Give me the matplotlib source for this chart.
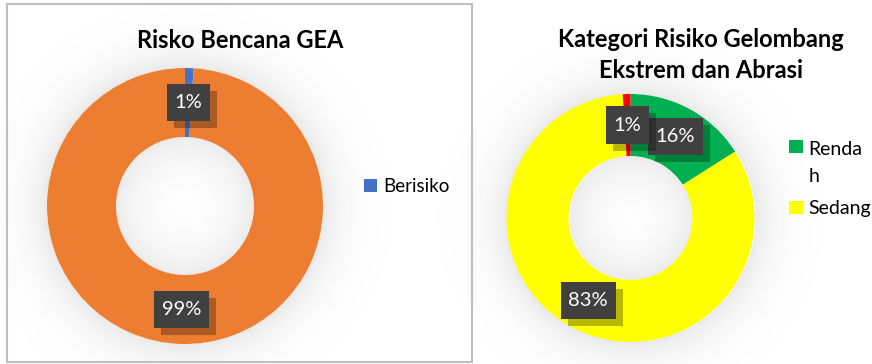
import matplotlib.pyplot as plt
import numpy as np
from matplotlib import patheffects
from matplotlib.path import Path
from matplotlib.patches import Rectangle
from matplotlib.legend_handler import HandlerPatch

plt.rcParams['font.family'] = ['Lato', 'DejaVu Sans']

W, H = 872, 364

# Risko Bencana GEA
gea_labels = ['Berisiko', 'Tidak Berisiko']
gea_values = [1, 99]
gea_colors = ['#4472C4', '#ED7D31']

# Kategori Risiko Gelombang Ekstrem dan Abrasi
gel_labels = ['Renda\nh', 'Sedang', 'Tinggi']
gel_values = [16, 83, 1]
gel_colors = ['#00B050', '#FFFF00', '#FF0000']

fig = plt.figure(figsize=(W / 100, H / 100), dpi=100)
ax = fig.add_axes([0, 0, 1, 1])


def glow(cx, cy, r, w):
    # soft grey shadow around the ring and inside the hole
    yy, xx = np.mgrid[0:H, 0:W] + 0.5
    d = np.hypot(xx - cx, yy - cy)
    out = np.clip(d - r, 0, None)
    inn = np.clip((r - w) - d, 0, None)
    a = np.where(d > r, 0.13 * np.exp(-out / 20), 0)
    a = a + np.where(d < r - w, 0.12 * np.exp(-inn / 26), 0)
    return a


def label_box(x0, y0, width, height, mutation_size):
    # rectangle with more room above/below the text than at the sides
    px, py = 0.38 * mutation_size, 0.5 * mutation_size
    x1, y1 = x0 + width + px, y0 + height + py
    x0, y0 = x0 - px, y0 - py
    return Path([(x0, y0), (x1, y0), (x1, y1), (x0, y1), (x0, y0)], closed=True)


def donut(values, colors, cx, cy, r):
    wedges, _, autos = ax.pie(
        values, colors=colors, center=(cx, H - cy), radius=r,
        startangle=90, counterclock=False,
        autopct=lambda p: f'{p:.0f}%', pctdistance=0.75,
        wedgeprops=dict(width=r * 0.5, linewidth=0),
        textprops=dict(color='white', fontsize=14.5))
    for t in autos:
        t.set_bbox(dict(boxstyle=label_box, fc='#404040', ec='none'))
        t.set_zorder(5)
        t.get_bbox_patch().set_path_effects([
            patheffects.SimplePatchShadow(offset=(5, -5), shadow_rgbFace='black', alpha=0.28),
            patheffects.Normal()])
    return wedges


def raised_square(legend, orig_handle, xdescent, ydescent, width, height, fontsize):
    # square lined up with the first line of a two-line label
    return Rectangle((-xdescent, -ydescent + 0.85 * fontsize), width, height)


alpha = glow(185, 206, 138, 69) + glow(630.5, 218, 124, 62)
rgba = np.zeros((H, W, 4))
rgba[..., :3] = 0.35
rgba[..., 3] = np.clip(alpha, 0, 1)
ax.imshow(rgba, extent=(0, W, 0, H), origin='upper', zorder=0)

w1 = donut(gea_values, gea_colors, 185, 206, 138)
w2 = donut(gel_values, gel_colors, 630.5, 218, 124)

ax.set_xlim(0, W)
ax.set_ylim(0, H)
ax.set_aspect('equal')
ax.axis('off')

# chart frame of the left panel
ax.add_patch(plt.Rectangle((7, H - 362), 465, 358, fill=False, ec='#BFBFBF', lw=1.5))

ax.text(240, H - 40, 'Risko Bencana GEA', ha='center', va='center',
        fontsize=17, fontweight='bold')
ax.text(701, H - 55, 'Kategori Risiko Gelombang\nEkstrem dan Abrasi', ha='center',
        va='center', fontsize=17, fontweight='bold', linespacing=1.45)

leg1 = ax.legend(w1[:1], gea_labels[:1], loc='center left',
                 bbox_to_anchor=(364 / W, 1 - 187 / H), frameon=False,
                 fontsize=13.5, handlelength=0.7, handleheight=0.7,
                 handletextpad=0.3, borderaxespad=0, borderpad=0)
ax.add_artist(leg1)
leg2 = ax.legend(w2[:2], gel_labels[:2], loc='upper left',
                 bbox_to_anchor=(789 / W, 1 - 141 / H), frameon=False,
                 fontsize=14, handlelength=0.7, handleheight=0.7,
                 handletextpad=0.3, labelspacing=0.8, borderaxespad=0, borderpad=0,
                 handler_map={w2[0]: HandlerPatch(patch_func=raised_square)})
leg2.get_texts()[0].set_linespacing(1.7)

fig.savefig('out.png', dpi=100)
